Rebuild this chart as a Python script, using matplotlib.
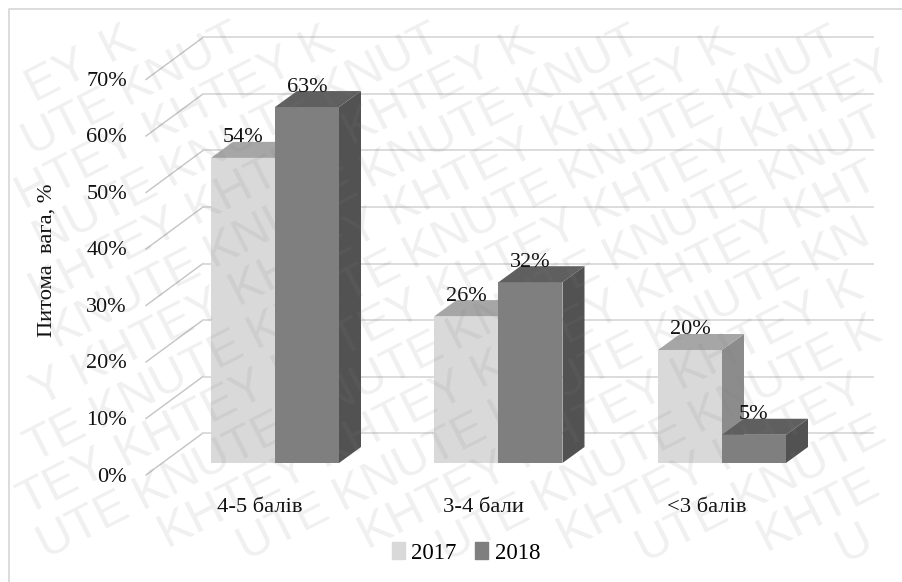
import numpy as np
import matplotlib
matplotlib.use('Agg')
import matplotlib.pyplot as plt
from matplotlib.font_manager import FontProperties
from matplotlib.patches import Rectangle
from matplotlib.textpath import TextPath
from matplotlib.transforms import offset_copy

plt.rcParams['font.family'] = ['Liberation Serif', 'DejaVu Serif']

categories = ['4-5 балів', '3-4 бали', '<3 балів']
years = ['2017', '2018']
values_2017 = [54, 26, 20]
values_2018 = [63, 32, 5]
y_ticks = [0, 10, 20, 30, 40, 50, 60, 70]
y_label = 'Питома  вага, %'
watermark_words = ['KNUTE', 'KHTEY']

W, H = 903, 582
px_x = 223.5      # pixels per category
px_y = 5.65       # pixels per percent
x0, y0 = 275, 463 # pixel of category 0 / value 0 on the bar front

fig = plt.figure(figsize=(W/100, H/100), dpi=100)
ax = fig.add_axes([0, 0, 1, 1])
ax.set_xlim(-x0/px_x, (W-x0)/px_x)
ax.set_ylim(-(H-y0)/px_y, y0/px_y)
ax.axis('off')

bar_w = 64/px_x
dep_x, dep_y = 22/px_x, 16/px_y   # bar depth
wall_l = (146-x0)/px_x
wall_dy = -12/px_y                # front edge of the floor
wall_dx, wall_h = 57/px_x, 42/px_y

# frame, only top and left are visible
ax.plot([1, 9/W, 9/W], [1-9/H, 1-9/H, 0], transform=ax.transAxes, color='#d9d9d9', lw=1.3, zorder=1)

# back wall gridlines
right = (873-x0)/px_x
for v in y_ticks:
    ax.plot([wall_l, wall_l+wall_dx], [v+wall_dy, v+wall_dy+wall_h], color='#c4c4c4', lw=1.0, zorder=2)
    ax.plot([wall_l+wall_dx, right], [v+wall_dy+wall_h, v+wall_dy+wall_h], color='#d9d9d9', lw=1.3, zorder=2)


def bar3d(x, v, front, top, side):
    ax.fill([x, x+bar_w, x+bar_w, x], [0, 0, v, v], color=front, lw=0, zorder=3)
    ax.fill([x+bar_w, x+bar_w+dep_x, x+bar_w+dep_x, x+bar_w],
            [0, dep_y, v+dep_y, v], color=side, lw=0, zorder=3)
    ax.fill([x, x+bar_w, x+bar_w+dep_x, x+dep_x],
            [v, v, v+dep_y, v+dep_y], color=top, lw=0, zorder=3)


label_off = offset_copy(ax.transData, fig=fig, x=0, y=20, units='dots')
for i in range(len(categories)):
    bar3d(i-bar_w, values_2017[i], '#d9d9d9', '#a6a6a6', '#8c8c8c')
    bar3d(i, values_2018[i], '#7f7f7f', '#5f5f5f', '#525252')
    ax.text(i-bar_w/2, values_2017[i], '{}%'.format(values_2017[i]), transform=label_off,
            ha='center', va='center', fontsize=16, color='#111111', zorder=5)
    ax.text(i+bar_w/2, values_2018[i], '{}%'.format(values_2018[i]), transform=label_off,
            ha='center', va='center', fontsize=16, color='#111111', zorder=5)

# axis text
tick_off = offset_copy(ax.transData, fig=fig, x=-148, y=-14, units='dots')
for v in y_ticks:
    ax.text(0, v, '{}%'.format(v), transform=tick_off, ha='right', va='center',
            fontsize=16, color='#111111', zorder=5)

cat_off = offset_copy(ax.transData, fig=fig, x=-15, y=-44, units='dots')
for i, c in enumerate(categories):
    ax.text(i, 0, c, transform=cat_off, ha='center', va='center', fontsize=16.2,
            color='#111111', zorder=5)

ax.text(47/W, 1-260/H, y_label, transform=ax.transAxes, rotation=90, ha='center',
        va='center', fontsize=16.2, color='#111111', zorder=5)

# legend
handles = [Rectangle((0, 0), 1, 1, color='#d9d9d9'), Rectangle((0, 0), 1, 1, color='#7f7f7f')]
ax.legend(handles, years, loc='center', bbox_to_anchor=(466/W, 1-553/H), ncol=2, frameon=False,
          fontsize=16.5, handlelength=0.55, handleheight=0.7, handletextpad=0.3, columnspacing=0.8)

# watermark: alternating rows of the two words, only the letters that fit in the picture
wm_size = 35
wm_prop = FontProperties(family='Liberation Sans', size=wm_size)
ang = np.deg2rad(27)
along = np.array([np.cos(ang), -np.sin(ang)])
normal = np.array([np.sin(ang), np.cos(ang)])
letter_h = 62


def adv(s):
    # width of string s in pixels
    if not s:
        return 0
    return (TextPath((0, 0), s + '.', prop=wm_prop).get_extents().x1
            - TextPath((0, 0), '.', prop=wm_prop).get_extents().x1) * 100/72


def fits(p):
    return 1 <= p[0] <= W-1 and 1 <= p[1] <= H-1


for row in range(-16, 17):
    word = watermark_words[row % 2]
    start = np.array([637, 140]) + (row//2)*np.array([43, 81])
    if row % 2:
        start = start + np.array([21, 40])
    for n in range(-8, 9):
        centre = start + n*176*along
        left = centre - along*adv(word)/2
        keep = []
        for j in range(len(word)):
            a, b = adv(word[:j]), adv(word[:j+1])
            corners = [left + along*d + normal*e for d in (a, b) for e in (-letter_h/2, letter_h/2)]
            keep.append(all(fits(c) for c in corners))
        if not any(keep):
            continue
        first = keep.index(True)
        last = len(keep) - keep[::-1].index(True)
        part = word[first:last]
        p = left + along*adv(word[:first])
        ax.text(p[0]/W, 1-p[1]/H, part, transform=ax.transAxes, rotation=27, rotation_mode='anchor',
                ha='left', va='center', fontproperties=wm_prop, color='#808080', alpha=0.12, zorder=6)

fig.savefig('out.png', dpi=100)
plt.close(fig)
